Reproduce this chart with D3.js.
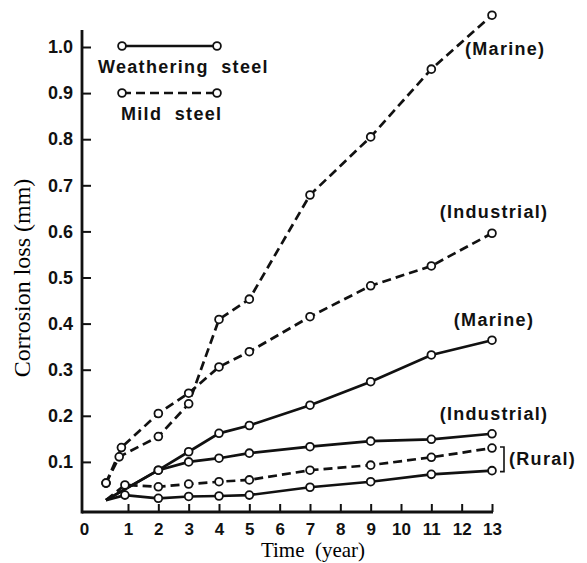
<!DOCTYPE html>
<html>
<head>
<meta charset="utf-8">
<script src="https://cdn.jsdelivr.net/npm/d3@7"></script>
<style>
  body { margin: 0; background: #fff; }
  svg { display: block; }
  .tick text { font-family: "Liberation Sans", Arial, sans-serif; font-weight: bold; font-size: 18px; fill: #111; }
  .x-axis .tick text { font-size: 17px; }
  .tick line { stroke: #111; stroke-width: 2; }
  .note { font-family: "Liberation Sans", Arial, sans-serif; font-weight: bold; font-size: 18px; letter-spacing: 1.3px; fill: #111; }
  .title { font-family: "Liberation Serif", "Times New Roman", serif; fill: #000; white-space: pre; }
</style>
</head>
<body>
<div id="chart"></div>
<script>
// data (time in years, corrosion loss in mm)
const xTicks = [0, 1, 2, 3, 4, 5, 6, 7, 8, 9, 10, 11, 12, 13];
const yTicks = [0.1, 0.2, 0.3, 0.4, 0.5, 0.6, 0.7, 0.8, 0.9, 1.0];

const yearsMildMarine = [0.5, 0.8, 2, 3, 4, 5, 7, 9, 11, 13];
const mildMarine = [0.054, 0.111, 0.155, 0.226, 0.409, 0.453, 0.679, 0.805, 0.952, 1.069];

const yearsMildIndustrial = [0.5, 0.85, 2, 3, 4, 5, 7, 9, 11, 13];
const mildIndustrial = [0.054, 0.131, 0.205, 0.249, 0.306, 0.339, 0.415, 0.482, 0.525, 0.596];

const yearsMildRural = [0.5, 0.93, 2, 3, 4, 5, 7, 9, 11, 13];
const mildRural = [0.017, 0.05, 0.046, 0.052, 0.057, 0.061, 0.082, 0.093, 0.11, 0.13];

const yearsWeatheringMarine = [0.5, 2, 3, 4, 5, 7, 9, 11, 13];
const weatheringMarine = [0.017, 0.082, 0.122, 0.162, 0.179, 0.223, 0.274, 0.332, 0.364];

const yearsWeatheringIndustrial = [0.5, 2, 3, 4, 5, 7, 9, 11, 13];
const weatheringIndustrial = [0.017, 0.082, 0.100, 0.108, 0.119, 0.133, 0.145, 0.149, 0.161];

const yearsWeatheringRural = [0.5, 0.93, 2, 3, 4, 5, 7, 9, 11, 13];
const weatheringRural = [0.017, 0.028, 0.021, 0.025, 0.026, 0.028, 0.045, 0.057, 0.073, 0.081];

const width = 587, height = 563;

// the 0-1 year stretch is drawn wider than the others in the figure
const x = d3.scaleLinear().domain([0, 1, 13]).range([84, 128, 492]);
const y = d3.scaleLinear().domain([0, 1]).range([508, 47]);
const axisY = 512, axisX = 82;

const svg = d3.select("#chart").append("svg")
    .attr("width", width)
    .attr("height", height);

const series = [
  { name: "mildMarine", kind: "mild", years: yearsMildMarine, values: mildMarine, markStart: true },
  { name: "mildIndustrial", kind: "mild", years: yearsMildIndustrial, values: mildIndustrial, markStart: true },
  { name: "mildRural", kind: "mild", years: yearsMildRural, values: mildRural, markStart: false },
  { name: "weatheringMarine", kind: "weathering", years: yearsWeatheringMarine, values: weatheringMarine, markStart: false },
  { name: "weatheringIndustrial", kind: "weathering", years: yearsWeatheringIndustrial, values: weatheringIndustrial, markStart: false },
  { name: "weatheringRural", kind: "weathering", years: yearsWeatheringRural, values: weatheringRural, markStart: false }
];
series.forEach(s => { s.points = s.years.map((t, i) => ({ t: t, v: s.values[i] })); });

//axes
const xAxis = d3.axisBottom(x).tickValues(xTicks).tickSize(-8).tickSizeOuter(0).tickPadding(11)
    .tickFormat(d3.format("d"));
const gx = svg.append("g").attr("class", "x-axis").attr("transform", "translate(0," + axisY + ")").call(xAxis);
gx.select(".domain").remove();
gx.selectAll(".tick").filter(d => d === 0).select("line").remove();

const yAxis = d3.axisLeft(y).tickValues(yTicks).tickSize(-9).tickSizeOuter(0).tickPadding(9)
    .tickFormat(d3.format(".1f"));
const gy = svg.append("g").attr("transform", "translate(" + axisX + ",0)").call(yAxis);
gy.select(".domain").remove();

svg.append("line").attr("x1", axisX).attr("x2", axisX).attr("y1", 30).attr("y2", axisY + 1.5)
    .attr("stroke", "#111").attr("stroke-width", 2.8);
svg.append("line").attr("x1", axisX).attr("x2", x(13) + 1).attr("y1", axisY).attr("y2", axisY)
    .attr("stroke", "#111").attr("stroke-width", 2.8);

//lines
const line = d3.line().x(d => x(d.t)).y(d => y(d.v));

svg.selectAll(".series")
    .data(series)
  .enter().append("path")
    .attr("class", "series")
    .attr("d", d => line(d.points))
    .attr("fill", "none")
    .attr("stroke", "#111")
    .attr("stroke-width", 2.7)
    .attr("stroke-dasharray", d => d.kind === "mild" ? "9,5" : null);

const markers = [];
series.forEach(s => s.points.forEach((p, i) => { if (i > 0 || s.markStart) markers.push(p); }));

svg.selectAll(".pt")
    .data(markers)
  .enter().append("circle")
    .attr("class", "pt")
    .attr("cx", d => x(d.t))
    .attr("cy", d => y(d.v))
    .attr("r", 3.9)
    .attr("fill", "#fff")
    .attr("stroke", "#111")
    .attr("stroke-width", 1.8);

//annotations beside the last points
function lastPoint(name) {
  const s = series.find(d => d.name === name);
  return s.points[s.points.length - 1];
}
const notes = [
  { text: "(Marine)", of: "mildMarine", dx: -27, dy: 40, anchor: "start" },
  { text: "(Industrial)", of: "mildIndustrial", dx: 2, dy: -15, anchor: "middle" },
  { text: "(Marine)", of: "weatheringMarine", dx: 2, dy: -14, anchor: "middle" },
  { text: "(Industrial)", of: "weatheringIndustrial", dx: 2, dy: -14, anchor: "middle" }
];
svg.selectAll(".note")
    .data(notes)
  .enter().append("text")
    .attr("class", "note")
    .attr("x", d => x(lastPoint(d.of).t) + d.dx)
    .attr("y", d => y(lastPoint(d.of).v) + d.dy)
    .attr("text-anchor", d => d.anchor)
    .text(d => d.text);

// bracket for the two rural curves
const rTop = y(lastPoint("mildRural").v) - 1, rBot = y(lastPoint("weatheringRural").v) + 1;
const bx = x(13) + 12;
svg.append("path")
    .attr("d", "M" + (bx - 4) + "," + rTop + "H" + bx + "V" + rBot + "H" + (bx - 4))
    .attr("fill", "none").attr("stroke", "#111").attr("stroke-width", 1.6);
svg.append("text").attr("class", "note")
    .attr("x", bx + 5).attr("y", (rTop + rBot) / 2 + 6)
    .text("(Rural)");

//legend
const legend = [
  { label: "Weathering  steel", kind: "weathering", ly: 46, tx: 98 },
  { label: "Mild  steel", kind: "mild", ly: 93, tx: 121 }
];
const lg = svg.selectAll(".legend")
    .data(legend)
  .enter().append("g")
    .attr("class", "legend");
lg.append("line")
    .attr("x1", 122).attr("x2", 217)
    .attr("y1", d => d.ly).attr("y2", d => d.ly)
    .attr("stroke", "#111").attr("stroke-width", 2.7)
    .attr("stroke-dasharray", d => d.kind === "mild" ? "9,5" : null);
lg.selectAll("circle")
    .data(d => [{ cx: 122, cy: d.ly }, { cx: 217, cy: d.ly }])
  .enter().append("circle")
    .attr("cx", d => d.cx).attr("cy", d => d.cy).attr("r", 3.9)
    .attr("fill", "#fff").attr("stroke", "#111").attr("stroke-width", 1.8);
lg.append("text")
    .attr("class", "note")
    .style("white-space", "pre")
    .attr("x", d => d.tx)
    .attr("y", d => d.ly + 27)
    .text(d => d.label);

//axis titles
svg.append("text").attr("class", "title")
    .attr("x", 313).attr("y", 557)
    .attr("text-anchor", "middle")
    .style("font-size", "21px")
    .text("Time  (year)");
svg.append("text").attr("class", "title")
    .attr("transform", "translate(30,278) rotate(-90)")
    .attr("text-anchor", "middle")
    .style("font-size", "24px")
    .text("Corrosion loss (mm)");
</script>
</body>
</html>
